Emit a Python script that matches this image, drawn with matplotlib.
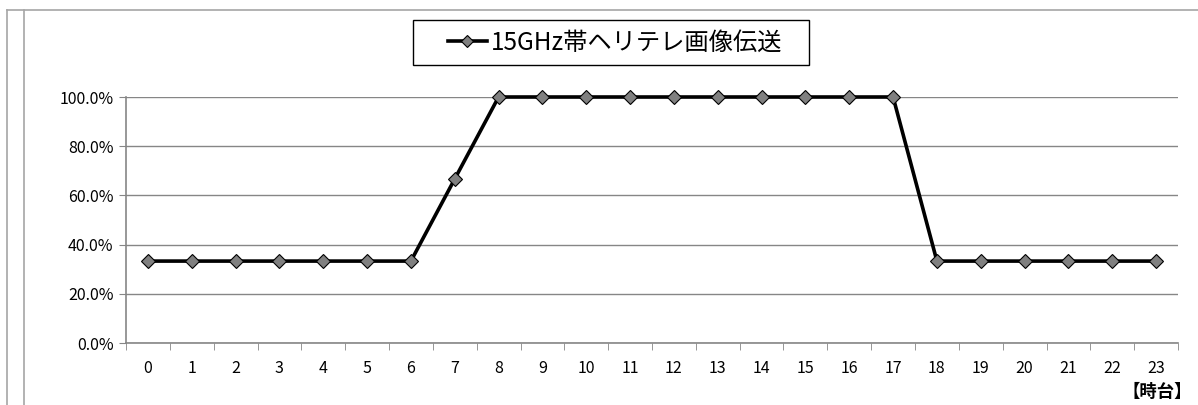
import matplotlib
matplotlib.use("Agg")
import matplotlib.pyplot as plt
from matplotlib.lines import Line2D
from matplotlib.patches import Rectangle
from matplotlib.ticker import FixedLocator, FuncFormatter

hours = list(range(24))
hour_labels = [str(h) for h in hours]
rates = [0.333, 0.333, 0.333, 0.333, 0.333, 0.333, 0.333, 0.667,
         1.0, 1.0, 1.0, 1.0, 1.0, 1.0, 1.0, 1.0, 1.0, 1.0,
         0.333, 0.333, 0.333, 0.333, 0.333, 0.333]
series_name = "15GHz帯ヘリテレ画像伝送"
x_title = "【時台】"

plt.rcParams["font.family"] = ["Noto Sans CJK JP", "DejaVu Sans"]

W, H = 1198, 405
fig = plt.figure(figsize=(W / 100, H / 100), dpi=100)

# outer frame remnants
frame_color = "#a6a6a6"
fig.add_artist(Line2D([7 / W, 7 / W], [0, 1 - 10 / H], transform=fig.transFigure, color=frame_color, lw=1.2))
fig.add_artist(Line2D([24 / W, 24 / W], [0, 1 - 10 / H], transform=fig.transFigure, color=frame_color, lw=1.2))
fig.add_artist(Line2D([7 / W, 1], [1 - 10 / H, 1 - 10 / H], transform=fig.transFigure, color=frame_color, lw=1.2))

ax = fig.add_axes([126 / W, 1 - 343 / H, (1178 - 126) / W, (343 - 97) / H])
line, = ax.plot(hours, rates, color="black", lw=2.6, marker="D", markersize=7.5,
                markerfacecolor="#808080", markeredgecolor="black", markeredgewidth=0.8,
                zorder=3, clip_on=False)

ax.set_xlim(-0.5, 23.5)
ax.set_ylim(0, 1.0)
ax.set_yticks([0, 0.2, 0.4, 0.6, 0.8, 1.0])
ax.yaxis.set_major_formatter(FuncFormatter(lambda v, _: f"{v * 100:.1f}%"))
ax.grid(axis="y", color="#868686", lw=1.0)
ax.set_axisbelow(True)

ax.set_xticks(hours)
ax.set_xticklabels(hour_labels)
ax.xaxis.set_minor_locator(FixedLocator([h - 0.5 for h in hours] + [23.5]))
ax.tick_params(axis="x", which="major", length=0, pad=12, labelsize=11.5)
ax.tick_params(axis="x", which="minor", length=5, color="#868686", direction="out")
ax.tick_params(axis="y", length=5, color="#868686", labelsize=11.5, pad=4)

for side in ("top", "right"):
    ax.spines[side].set_visible(False)
for side in ("left", "bottom"):
    ax.spines[side].set_color("#868686")
    ax.spines[side].set_linewidth(1.2)

fig.text(1192 / W, 1 - 392 / H, x_title, ha="right", va="center",
         fontsize=12.5, fontweight="bold")

# legend box drawn separately so its size matches the reference
fig.add_artist(Rectangle((413 / W, 1 - 65 / H), (809 - 413) / W, 45 / H,
                         transform=fig.transFigure, fill=False, edgecolor="black", lw=1.0))
leg = fig.legend([line], [series_name], loc="center", bbox_to_anchor=(615 / W, 1 - 42.5 / H),
                 fontsize=17.5, frameon=False, handlelength=1.6,
                 handletextpad=0.15, borderpad=0.0, borderaxespad=0, markerscale=0.85)

fig.savefig("out.png", dpi=100)
